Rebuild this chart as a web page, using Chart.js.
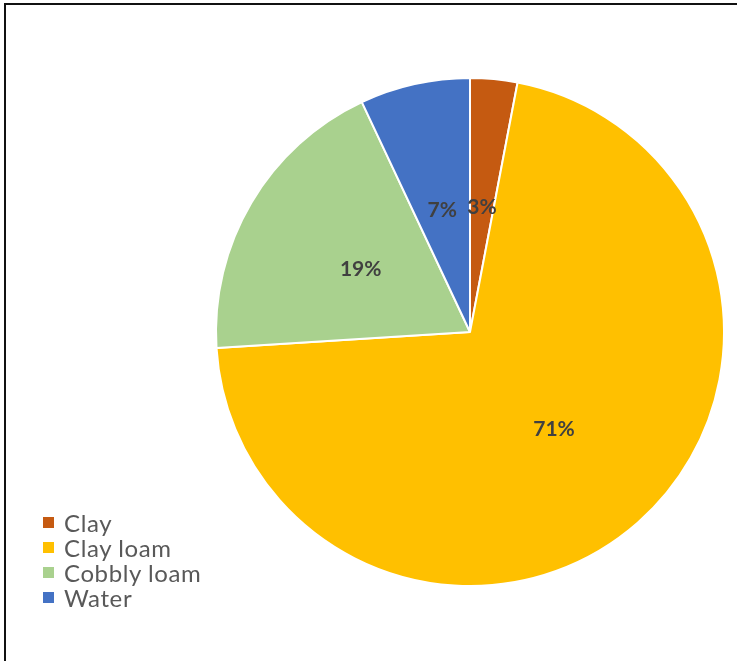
<!DOCTYPE html>
<html>
<head>
<meta charset="utf-8">
<script src="https://cdn.jsdelivr.net/npm/chart.js@4/dist/chart.umd.min.js"></script>
<style>
  html, body { margin: 0; padding: 0; background: #ffffff; }
  #wrap { position: relative; width: 737px; height: 661px; }
  #frameTop { position: absolute; left: 4px; top: 3px; width: 733px; height: 2px; background: #111; }
  #frameLeft { position: absolute; left: 4px; top: 3px; width: 2px; height: 658px; background: #111; }
  canvas { position: absolute; left: 0; top: 0; }
  #legend { position: absolute; left: 43px; top: 510px; font-family: Lato, "Open Sans", sans-serif;
            font-size: 24px; letter-spacing: 0.6px; color: #595959; }
  #legend .item { height: 25px; line-height: 25px; display: flex; align-items: center; white-space: nowrap; }
  #legend .swatch { width: 11px; height: 11px; margin-right: 10px; flex: none; }
</style>
</head>
<body>
<div id="wrap">
  <canvas id="chart" width="737" height="661"></canvas>
  <div id="frameTop"></div>
  <div id="frameLeft"></div>
  <div id="legend"></div>
</div>
<script>
// Soil / surface type shares (percent)
const categories = ["Clay", "Clay loam", "Cobbly loam", "Water"];
const shares = [3, 71, 19, 7];
const sliceColors = ["#C55A11", "#FFC000", "#A9D18E", "#4472C4"];

// Percentage labels drawn at each slice's centroid
const sliceLabels = {
  id: "sliceLabels",
  afterDatasetsDraw(chart) {
    const ctx = chart.ctx;
    const meta = chart.getDatasetMeta(0);
    const data = chart.data.datasets[0].data;
    const total = data.reduce((a, b) => a + b, 0);
    ctx.save();
    ctx.font = "bold 21px Lato, 'Open Sans', sans-serif";
    ctx.fillStyle = "#404040";
    ctx.textAlign = "center";
    ctx.textBaseline = "middle";
    meta.data.forEach((arc, i) => {
      const p = arc.tooltipPosition();
      const pct = Math.round(data[i] / total * 100);
      ctx.fillText(pct + "%", p.x, p.y + 2);
    });
    ctx.restore();
  }
};

new Chart(document.getElementById("chart"), {
  type: "pie",
  data: {
    labels: categories,
    datasets: [{
      data: shares,
      backgroundColor: sliceColors,
      borderColor: "#ffffff",
      borderWidth: 2
    }]
  },
  options: {
    responsive: false,
    animation: false,
    layout: { padding: { top: 77, bottom: 74, left: 215, right: 12 } },
    plugins: {
      legend: { display: false },
      tooltip: { enabled: false }
    }
  },
  plugins: [sliceLabels]
});

// Legend built from the same category and colour lists
const legend = document.getElementById("legend");
categories.forEach((name, i) => {
  const item = document.createElement("div");
  item.className = "item";
  const sw = document.createElement("span");
  sw.className = "swatch";
  sw.style.background = sliceColors[i];
  const tx = document.createElement("span");
  tx.textContent = name;
  item.appendChild(sw);
  item.appendChild(tx);
  legend.appendChild(item);
});
</script>
</body>
</html>
